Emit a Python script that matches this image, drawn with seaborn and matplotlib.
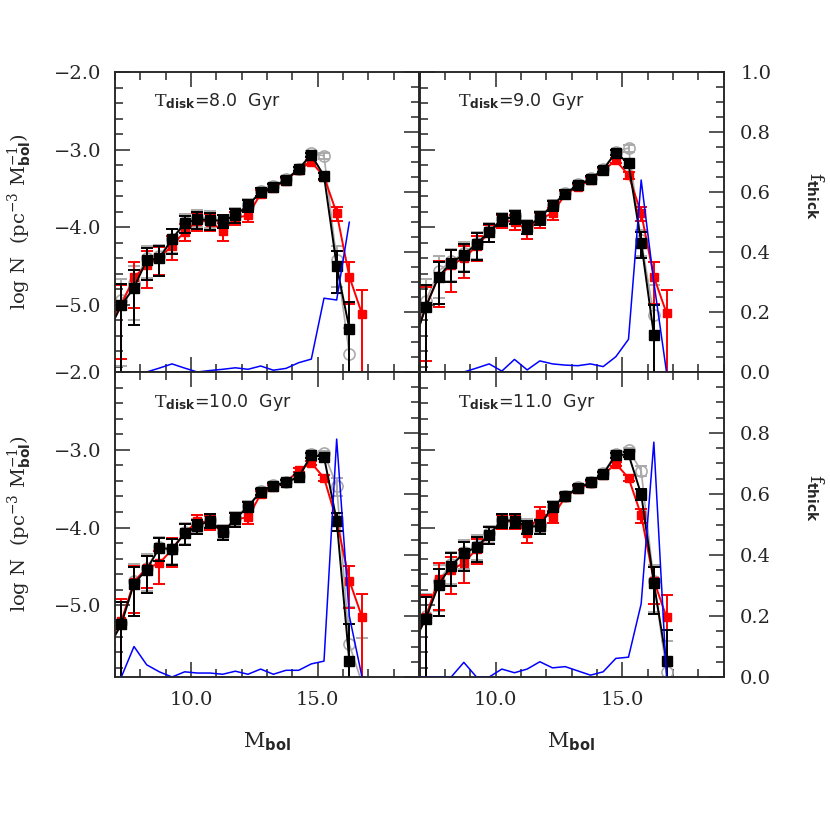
import numpy as np
import matplotlib
matplotlib.use("Agg")
import matplotlib.pyplot as plt
import matplotlib.ticker as mticker
import seaborn as sns

nan = np.nan

# bin centres (M_bol)
MBOL = [6.75, 7.25, 7.75, 8.25, 8.75, 9.25, 9.75, 10.25, 10.75, 11.25, 11.75,
        12.25, 12.75, 13.25, 13.75, 14.25, 14.75, 15.25, 15.75, 16.25, 16.75]

AGES = ["8.0", "9.0", "10.0", "11.0"]

# ── T_disk = 8.0 Gyr ─────────────────────────────────────────────────────────
BLK_8 = [-5.34, -5.01, -4.78, -4.43, -4.40, -4.16, -3.95, -3.90, -3.91, -3.92, -3.85,
         -3.72, -3.55, -3.48, -3.39, -3.25, -3.07, -3.34, -4.50, -5.31, nan]
GRY_8 = [-5.30, -4.94, -4.72, -4.40, -4.38, -4.15, -3.93, -3.88, -3.89, -3.92, -3.84,
         -3.71, -3.54, -3.47, -3.38, -3.25, -3.05, -3.08, -4.43, -5.64, nan]
RED_8 = [-5.25, -5.00, -4.65, -4.49, -4.40, -4.24, -4.06, -3.92, -3.93, -4.05, -3.88,
         -3.85, -3.57, -3.49, -3.40, -3.26, -3.16, -3.35, -3.82, -4.64, -5.12]
ERR_8 = [0.9, 0.86, 0.67, 0.44, 0.42, 0.35, 0.25, 0.25, 0.25, 0.2, 0.2,
         0.18, 0.12, 0.1, 0.08, 0.07, 0.07, 0.1, 0.55, 1.2, nan]
ERR_RED_8 = [0.9, 0.8, 0.6, 0.5, 0.4, 0.35, 0.25, 0.25, 0.25, 0.25, 0.2,
             0.18, 0.12, 0.1, 0.08, 0.07, 0.07, 0.1, 0.2, 0.55, 1.05]
FTH_8 = [0.0, 0.0, 0.0, 0.0, 0.013, 0.027, 0.013, 0.0, 0.005, 0.009, 0.014,
         0.009, 0.02, 0.006, 0.012, 0.031, 0.043, 0.246, 0.24, 0.50, nan]

# ── T_disk = 9.0 Gyr ─────────────────────────────────────────────────────────
BLK_9 = [-5.52, -5.03, -4.64, -4.46, -4.36, -4.22, -4.06, -3.90, -3.87, -4.00, -3.88,
         -3.72, -3.57, -3.46, -3.38, -3.26, -3.04, -3.18, -4.20, -5.39, nan]
GRY_9 = [-5.45, -4.95, -4.57, -4.44, -4.34, -4.20, -4.05, -3.89, -3.86, -3.98, -3.87,
         -3.71, -3.56, -3.45, -3.37, -3.25, -3.03, -2.98, -4.17, -5.14, nan]
RED_9 = [-5.50, -5.03, -4.64, -4.49, -4.40, -4.25, -4.07, -3.92, -3.93, -4.04, -3.90,
         -3.82, -3.58, -3.48, -3.39, -3.27, -3.14, -3.33, -3.82, -4.64, -5.11]
ERR_9 = [0.9, 0.9, 0.55, 0.44, 0.4, 0.38, 0.27, 0.18, 0.2, 0.18, 0.2,
         0.15, 0.1, 0.08, 0.08, 0.07, 0.07, 0.1, 0.37, 1.45, nan]
ERR_RED_9 = [0.9, 0.8, 0.6, 0.55, 0.45, 0.35, 0.25, 0.2, 0.22, 0.22, 0.22,
             0.18, 0.1, 0.08, 0.08, 0.07, 0.07, 0.1, 0.2, 0.55, 1.0]
FTH_9 = [0.0, 0.0, 0.0, 0.0, 0.0, 0.013, 0.027, 0.003, 0.042, 0.007, 0.037,
         0.027, 0.023, 0.021, 0.027, 0.018, 0.051, 0.109, 0.64, 0.30, 0.0]

# ── T_disk = 10.0 Gyr ────────────────────────────────────────────────────────
BLK_10 = [-5.54, -5.24, -4.72, -4.54, -4.26, -4.28, -4.07, -3.98, -3.91, -4.06, -3.89,
          -3.73, -3.54, -3.46, -3.42, -3.35, -3.07, -3.09, -3.91, -5.72, nan]
GRY_10 = [-5.50, -5.23, -4.68, -4.52, -4.25, -4.27, -4.06, -3.97, -3.90, -4.05, -3.88,
          -3.72, -3.53, -3.45, -3.41, -3.34, -3.06, -3.04, -3.46, -5.50, -6.00]
RED_10 = [-5.45, -5.20, -4.70, -4.52, -4.46, -4.28, -4.07, -3.92, -3.93, -4.06, -3.89,
          -3.87, -3.57, -3.48, -3.42, -3.26, -3.17, -3.36, -3.91, -4.68, -5.15]
ERR_10 = [0.9, 0.9, 0.62, 0.5, 0.33, 0.37, 0.3, 0.2, 0.2, 0.2, 0.2,
          0.15, 0.1, 0.08, 0.08, 0.07, 0.07, 0.07, 0.27, 2.0, 2.8]
ERR_RED_10 = [0.9, 0.9, 0.6, 0.45, 0.45, 0.4, 0.3, 0.22, 0.2, 0.2, 0.2,
              0.18, 0.1, 0.08, 0.08, 0.07, 0.07, 0.1, 0.27, 0.55, 1.0]
FTH_10 = [nan, 0.0, 0.10, 0.04, 0.017, 0.0, 0.017, 0.013, 0.013, 0.009, 0.019,
          0.009, 0.026, 0.009, 0.022, 0.022, 0.043, 0.052, 0.78, 0.20, 0.0]

# ── T_disk = 11.0 Gyr ────────────────────────────────────────────────────────
BLK_11 = [-5.49, -5.17, -4.74, -4.49, -4.33, -4.25, -4.09, -3.91, -3.91, -3.99, -3.98,
          -3.73, -3.60, -3.49, -3.42, -3.31, -3.07, -3.06, -3.57, -4.71, -5.72]
GRY_11 = [-5.45, -5.13, -4.68, -4.47, -4.31, -4.23, -4.07, -3.90, -3.90, -3.97, -3.97,
          -3.72, -3.59, -3.48, -3.41, -3.30, -3.05, -3.00, -3.27, -4.69, -5.85]
RED_11 = [-5.45, -5.15, -4.66, -4.55, -4.45, -4.28, -4.09, -3.92, -3.92, -4.07, -3.82,
          -3.86, -3.61, -3.50, -3.43, -3.32, -3.18, -3.36, -3.84, -4.68, -5.15]
ERR_11 = [0.9, 0.9, 0.6, 0.45, 0.4, 0.35, 0.25, 0.2, 0.2, 0.2, 0.2,
          0.15, 0.1, 0.08, 0.08, 0.07, 0.07, 0.07, 0.15, 0.6, 1.5]
ERR_RED_11 = [0.9, 0.9, 0.6, 0.5, 0.45, 0.35, 0.25, 0.2, 0.2, 0.25, 0.2,
              0.18, 0.1, 0.08, 0.08, 0.07, 0.07, 0.1, 0.2, 0.5, 0.95]
FTH_11 = [0.0, 0.0, 0.0, 0.0, 0.048, 0.0, 0.0, 0.026, 0.014, 0.026, 0.05,
          0.03, 0.034, 0.02, 0.006, 0.017, 0.061, 0.065, 0.24, 0.77, 0.0]

PANELS = [
    (BLK_8, GRY_8, RED_8, ERR_8, ERR_RED_8, FTH_8),
    (BLK_9, GRY_9, RED_9, ERR_9, ERR_RED_9, FTH_9),
    (BLK_10, GRY_10, RED_10, ERR_10, ERR_RED_10, FTH_10),
    (BLK_11, GRY_11, RED_11, ERR_11, ERR_RED_11, FTH_11),
]

sns.set_theme(style="ticks")
plt.rcParams["font.family"] = ["DejaVu Serif"]
plt.rcParams["mathtext.fontset"] = "custom"
plt.rcParams["mathtext.rm"] = "DejaVu Serif"
plt.rcParams["mathtext.it"] = "DejaVu Serif:italic"
plt.rcParams["mathtext.bf"] = "DejaVu Sans:bold"
plt.rcParams["axes.linewidth"] = 1.1

GRAY = "#aaaaaa"
W = 830.0


def fmt1(v, _):
    return f"{v:.1f}".replace("-", "\u2212")


def log_err(rel):
    rel = np.asarray(rel, dtype=float)
    up = np.log10(1 + rel)
    lo = np.where(rel < 1, -np.log10(np.clip(1 - rel, 1e-3, None)), 3.0)
    return [lo, up]


def draw_panel(ax, blk, gry, red, err, err_red, fth, age, row, col):
    x = np.array(MBOL)
    series = [
        (gry, err, GRAY, dict(marker="o", ms=8, mfc="none", mec=GRAY, mew=1.2), 1.2, 2),
        (red, err_red, "red", dict(marker="s", ms=5.5, mfc="red", mec="red"), 1.4, 3),
        (blk, err, "black", dict(marker="s", ms=6.5, mfc="black", mec="black"), 1.4, 4),
    ]
    for y, e, c, mk, lw, z in series:
        y = np.array(y, dtype=float)
        sns.lineplot(x=x, y=y, ax=ax, color=c, lw=lw, estimator=None, sort=False, zorder=z)
        ax.errorbar(x, y, yerr=log_err(e), fmt="none", ecolor=c, elinewidth=1.4,
                    capsize=4, capthick=1.4, zorder=z)
        ax.plot(x, y, ls="none", zorder=z + 0.5, **mk)

    ax2 = ax.twinx()
    sns.lineplot(x=x, y=np.array(fth, dtype=float), ax=ax2, color="#0000ff", lw=1.1,
                 estimator=None, sort=False)

    ax.set_xlim(7, 19)
    ax.set_ylim(-5.87 if row == 0 else -5.92, -2.0)
    ax2.set_ylim(0, 1.0)
    ax.set_xlabel("")
    ax.set_ylabel("")
    ax2.set_ylabel("")

    ax.xaxis.set_major_locator(mticker.MultipleLocator(5))
    ax.xaxis.set_minor_locator(mticker.MultipleLocator(1))
    ax.yaxis.set_major_locator(mticker.MultipleLocator(1))
    ax.yaxis.set_minor_locator(mticker.MultipleLocator(0.2))
    ax2.yaxis.set_major_locator(mticker.MultipleLocator(0.2))
    ax2.yaxis.set_minor_locator(mticker.MultipleLocator(0.05))
    ax.xaxis.set_major_formatter(mticker.FuncFormatter(fmt1))
    ax.yaxis.set_major_formatter(mticker.FuncFormatter(fmt1))
    if row == 1:
        ax2.yaxis.set_major_formatter(mticker.FuncFormatter(
            lambda v, _: "" if v > 0.95 else f"{v:.1f}"))
    else:
        ax2.yaxis.set_major_formatter(mticker.FuncFormatter(lambda v, _: f"{v:.1f}"))

    ax.tick_params(which="both", direction="in", top=True, bottom=True, left=True,
                   right=False, width=1.1, labelsize=14, pad=10,
                   labelbottom=(row == 1), labelleft=(col == 0))
    ax.tick_params(which="major", length=11)
    ax.tick_params(which="minor", length=5.5)
    ax2.tick_params(which="both", direction="in", right=True, left=False, width=1.1,
                    labelsize=14, pad=12, labelright=(col == 1))
    ax2.tick_params(which="major", length=11)
    ax2.tick_params(which="minor", length=5.5)
    for s in ax2.spines.values():
        s.set_linewidth(1.1)

    ax.text(0.128, 0.885, r"$\mathrm{T}_{\mathbf{disk}}$=" + age + "  Gyr",
            transform=ax.transAxes, fontsize=12.5, family="DejaVu Sans",
            ha="left", va="baseline", zorder=10)


fig = plt.figure(figsize=(8.3, 8.3), dpi=100)
xs = [115 / W, 419.5 / W]
wcol = 304 / W
rows = [((W - 372) / W, 300 / W), ((W - 677) / W, 305 / W)]

for i, (blk, gry, red, err, err_red, fth) in enumerate(PANELS):
    r, c = divmod(i, 2)
    ax = fig.add_axes([xs[c], rows[r][0], wcol, rows[r][1]])
    draw_panel(ax, blk, gry, red, err, err_red, fth, AGES[i], r, c)

ylab = r"log N  (pc$^{-3}$ M$_{\mathbf{bol}}^{-1}$)"
fig.text(20 / W, 1 - 222 / W, ylab, rotation=90, fontsize=14, ha="center", va="center")
fig.text(20 / W, 1 - 524 / W, ylab, rotation=90, fontsize=14, ha="center", va="center")
for cx in [267, 571]:
    fig.text(cx / W, 1 - 742 / W, r"M$_{\mathbf{bol}}$", fontsize=15, ha="center", va="center")
for cy in [196, 498]:
    fig.text(815 / W, 1 - cy / W, r"f$_{\mathbf{thick}}$", rotation=270, fontsize=14,
             ha="center", va="center")

fig.savefig("out.png", dpi=100)
